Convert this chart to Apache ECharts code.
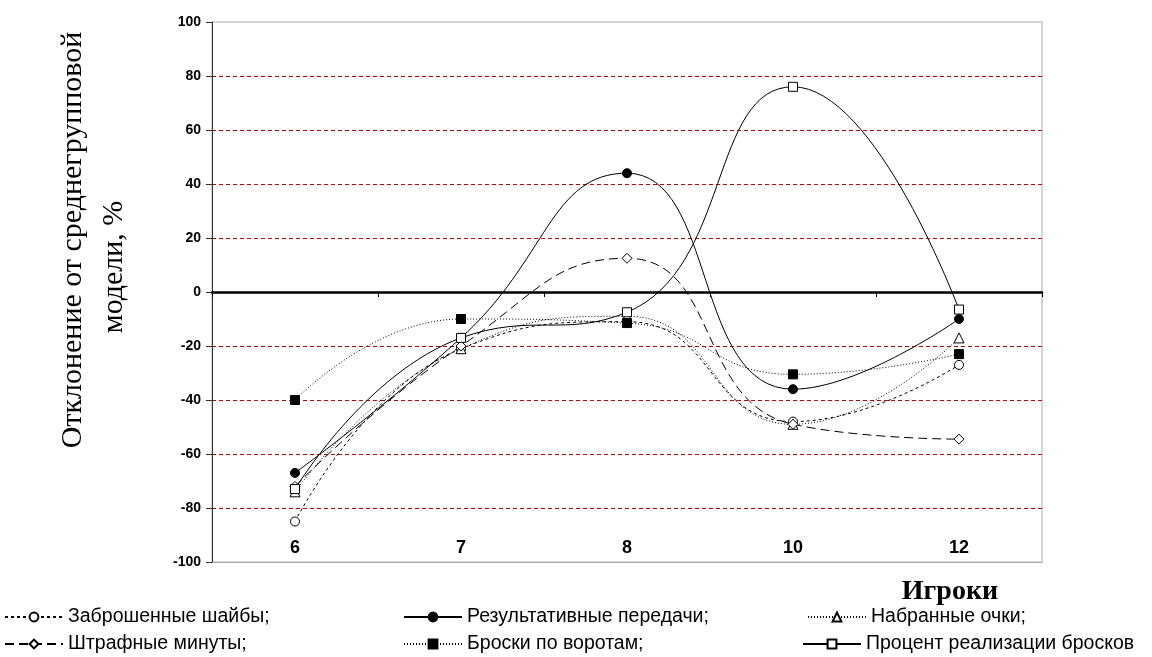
<!DOCTYPE html>
<html>
<head>
<meta charset="utf-8">
<script src="https://cdn.jsdelivr.net/npm/echarts@6/dist/echarts.min.js"></script>
<style>
html,body{margin:0;padding:0;background:#fff;}
#chart{width:1152px;height:657px;}
</style>
</head>
<body>
<div id="chart"></div>
<script>
// ---- data ----
var categories = ['6', '7', '8', '10', '12'];
var zabroshennye = [-85, -21, -11, -48, -27];      // Заброшенные шайбы
var rezultativnye = [-67, -17, 44, -36, -10];      // Результативные передачи
var nabrannye = [-74, -21, -9, -49, -17];          // Набранные очки
var shtrafnye = [-72, -20, 12.5, -49, -54.5];      // Штрафные минуты
var broski = [-40, -10, -11.5, -30.5, -23];        // Броски по воротам
var procent = [-73, -17, -7.5, 76, -6.5];          // Процент реализации бросков
var yMin = -100, yMax = 100, yStep = 20;

var names = ['Заброшенные шайбы;', 'Результативные передачи;', 'Набранные очки;',
             'Штрафные минуты;', 'Броски по воротам;', 'Процент реализации бросков'];

var chart = echarts.init(document.getElementById('chart'), null, {renderer: 'canvas'});

function mkSeries(name, data, symbol, filled, dash) {
  return {
    name: name,
    type: 'line',
    data: data,
    smooth: 0.5,
    symbol: symbol,
    symbolSize: symbol === 'rect' ? 9 : (symbol === 'triangle' ? 10 : (symbol === 'diamond' ? 10 : 9)),
    showAllSymbol: true,
    lineStyle: {color: '#000', width: 1, type: dash},
    itemStyle: {color: filled ? '#000' : '#fff', borderColor: '#000', borderWidth: 1},
    emphasis: {disabled: true},
    z: 3
  };
}

function mkLegend(name, left, top) {
  return {
    data: [name],
    left: left,
    top: top,
    padding: 0,
    itemWidth: 58,
    itemHeight: 11,
    itemGap: 6,
    selectedMode: false,
    textStyle: {fontSize: 19.5, color: '#000', fontFamily: 'Liberation Sans, Arial, sans-serif'}
  };
}

var option = {
  backgroundColor: '#fff',
  animation: false,
  grid: {left: 212, top: 22, right: 110, bottom: 95, show: true, borderColor: '#aaa', borderWidth: 1, backgroundColor: '#fff'},
  xAxis: [{
    type: 'category',
    data: categories,
    position: 'bottom',
    boundaryGap: true,
    z: 5,
    axisLine: {onZero: true, lineStyle: {color: '#000', width: 2.5}},
    axisTick: {show: true, length: 5, lineStyle: {color: '#000', width: 1}},
    axisLabel: {show: false},
    splitLine: {show: false}
  }, {
    type: 'category',
    data: categories,
    position: 'bottom',
    boundaryGap: true,
    axisLine: {show: true, onZero: false, lineStyle: {color: '#aaa', width: 1}},
    axisTick: {show: false},
    axisLabel: {show: true, margin: -23, fontSize: 18, fontWeight: 'bold', color: '#000', fontFamily: 'Liberation Sans, Arial, sans-serif'},
    splitLine: {show: false}
  }],
  yAxis: {
    type: 'value',
    min: yMin, max: yMax, interval: yStep,
    axisLine: {show: true, lineStyle: {color: '#333', width: 1}},
    axisTick: {show: true, length: 6, lineStyle: {color: '#333'}},
    axisLabel: {fontSize: 14, fontWeight: 'bold', color: '#000', margin: 11, fontFamily: 'Liberation Sans, Arial, sans-serif'},
    splitLine: {show: true, showMinLine: false, showMaxLine: false, lineStyle: {color: '#c00000', type: [4, 3], width: 1}}
  },
  legend: [
    mkLegend(names[0], 4, 607),
    mkLegend(names[1], 403, 607),
    mkLegend(names[2], 807, 607),
    mkLegend(names[3], 4, 634),
    mkLegend(names[4], 403, 634),
    mkLegend(names[5], 802, 634)
  ],
  series: [
    mkSeries(names[0], zabroshennye, 'circle', false, [3, 3]),
    mkSeries(names[1], rezultativnye, 'circle', true, 'solid'),
    mkSeries(names[2], nabrannye, 'triangle', false, [1, 2]),
    mkSeries(names[3], shtrafnye, 'diamond', false, [9, 5]),
    mkSeries(names[4], broski, 'rect', true, [1, 2]),
    mkSeries(names[5], procent, 'rect', false, 'solid')
  ],
  graphic: [
    {type: 'text', x: 73, y: 240, rotation: Math.PI / 2,
     style: {text: 'Отклонение от среднегрупповой', font: '30px "Liberation Serif", "Times New Roman", serif', fill: '#000', align: 'center', verticalAlign: 'middle'}},
    {type: 'text', x: 114, y: 267, rotation: Math.PI / 2,
     style: {text: 'модели, %', font: '30px "Liberation Serif", "Times New Roman", serif', fill: '#000', align: 'center', verticalAlign: 'middle'}},
    {type: 'text', x: 950, y: 592,
     style: {text: 'Игроки', font: 'bold 28px "Liberation Serif", "Times New Roman", serif', fill: '#000', align: 'center', verticalAlign: 'middle'}}
  ]
};
chart.setOption(option);
</script>
</body>
</html>
